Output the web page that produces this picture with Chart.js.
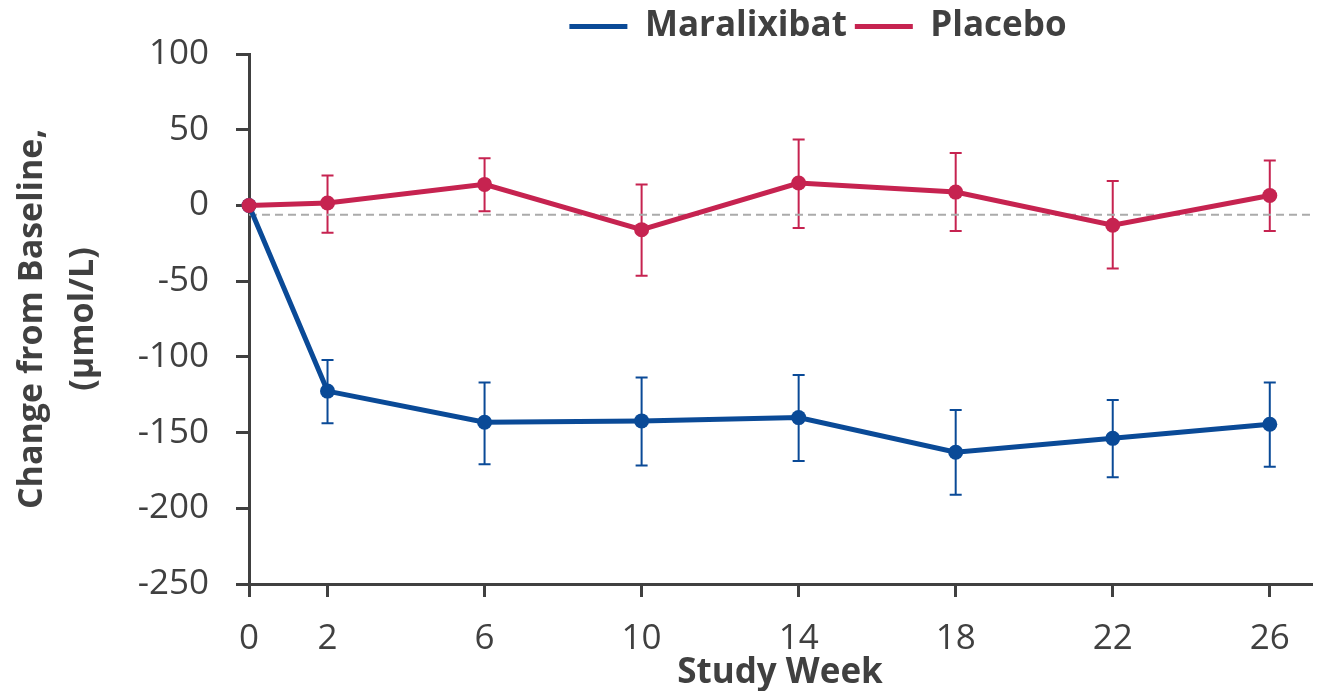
<!DOCTYPE html>
<html>
<head>
<meta charset="utf-8">
<script src="https://cdn.jsdelivr.net/npm/chart.js@4.4.1/dist/chart.umd.min.js"></script>
<style>
  html, body { margin: 0; padding: 0; background: #fff; }
  #wrap { width: 1321px; height: 691px; position: relative; }
</style>
</head>
<body>
<div id="wrap"><canvas id="grafica"></canvas></div>
<script>
// Study weeks (x axis)
const weeks = [0, 2, 6, 10, 14, 18, 22, 26];

// Maralixibat: mean change and error bar ends
const maralixibat = [0, -122.6, -143.2, -142.3, -140.1, -163.0, -153.8, -144.5];
const maralixibatHi = [0, -102.1, -116.9, -113.6, -112.0, -135.1, -128.5, -116.9];
const maralixibatLo = [0, -143.9, -171.0, -171.8, -168.7, -191.1, -179.5, -172.5];

// Placebo
const placebo = [0, 1.6, 13.9, -16.0, 14.8, 8.8, -13.1, 6.6];
const placeboHi = [0, 19.8, 31.2, 13.9, 43.6, 34.7, 16.1, 29.7];
const placeboLo = [0, -18.0, -3.9, -46.5, -14.9, -16.9, -41.7, -16.9];

// dashed reference line
const refLineY = -6.2;

// axis ranges / ticks
const xMin = 0;
const xMax = 27.05;
const yMin = -250;
const yMax = 100;
const yStep = 50;

const AXIS = "#404040";
const AZUL = "#0a4a97";
const ROJO = "#c62350";

Chart.defaults.font.family = "'Open Sans', sans-serif";
Chart.defaults.color = AXIS;

function puntos(ys) {
  return weeks.map((w, i) => ({ x: w, y: ys[i] }));
}

// error bars drawn through the chart scales
const barrasError = {
  id: "barrasError",
  beforeDatasetsDraw(chart) {
    const ctx = chart.ctx;
    const xs = chart.scales.x;
    const ys = chart.scales.y;
    chart.data.datasets.forEach((ds, i) => {
      if (!ds.errHi || !chart.isDatasetVisible(i)) return;
      ctx.save();
      ctx.strokeStyle = ds.borderColor;
      ctx.lineWidth = 2;
      weeks.forEach((w, j) => {
        if (ds.errHi[j] === ds.errLo[j]) return;
        const px = xs.getPixelForValue(w);
        const top = ys.getPixelForValue(ds.errHi[j]);
        const bot = ys.getPixelForValue(ds.errLo[j]);
        ctx.beginPath();
        ctx.moveTo(px, top);
        ctx.lineTo(px, bot);
        ctx.moveTo(px - 6, top);
        ctx.lineTo(px + 6, top);
        ctx.moveTo(px - 6, bot);
        ctx.lineTo(px + 6, bot);
        ctx.stroke();
      });
      ctx.restore();
    });
  },
};

// move legend so it sits where the original one is
const moverLeyenda = {
  id: "moverLeyenda",
  afterLayout(chart) {
    const l = chart.legend;
    if (!l) return;
    l.left += 38;
    l.right += 38;
  },
};

// legend items: a thick line in the series colour
function etiquetas(chart) {
  const base = Chart.defaults.plugins.legend.labels.generateLabels(chart);
  return base
    .filter((it) => it.datasetIndex < 2)
    .map((it) => {
      const ds = chart.data.datasets[it.datasetIndex];
      it.lineWidth = 5;
      it.strokeStyle = ds.borderColor;
      it.fillStyle = ds.borderColor;
      it.pointStyle = "line";
      return it;
    });
}

new Chart(document.getElementById("grafica"), {
  type: "line",
  data: {
    datasets: [
      {
        label: "Maralixibat",
        data: puntos(maralixibat),
        errHi: maralixibatHi,
        errLo: maralixibatLo,
        borderColor: AZUL,
        backgroundColor: AZUL,
        borderWidth: 5,
        pointRadius: 7.5,
        pointBorderWidth: 0,
        pointBackgroundColor: AZUL,
        order: 1,
        clip: false,
      },
      {
        label: "Placebo",
        data: puntos(placebo),
        errHi: placeboHi,
        errLo: placeboLo,
        borderColor: ROJO,
        backgroundColor: ROJO,
        borderWidth: 5,
        pointRadius: 7.5,
        pointBorderWidth: 0,
        pointBackgroundColor: ROJO,
        order: 0,
        clip: false,
      },
      {
        label: "ref",
        data: [{ x: xMin, y: refLineY }, { x: xMax, y: refLineY }],
        borderColor: "#ababab",
        borderWidth: 2,
        borderDash: [8, 5],
        pointRadius: 0,
        order: 2,
      },
    ],
  },
  options: {
    responsive: true,
    maintainAspectRatio: false,
    animation: false,
    layout: { padding: { top: 1, right: 10, bottom: 0, left: 0 } },
    plugins: {
      tooltip: { enabled: false },
      legend: {
        position: "top",
        fullSize: false,
        labels: {
          usePointStyle: true,
          pointStyle: "line",
          pointStyleWidth: 58,
          padding: 8,
          color: AXIS,
          font: { size: 35, weight: "bold" },
          generateLabels: etiquetas,
          sort: (a, b) => a.datasetIndex - b.datasetIndex,
        },
      },
    },
    scales: {
      x: {
        type: "linear",
        min: xMin,
        max: xMax,
        afterBuildTicks: (s) => {
          s.ticks = weeks.map((w) => ({ value: w }));
        },
        afterFit: (s) => {
          s.height = 107;
        },
        grid: {
          drawOnChartArea: false,
          drawTicks: true,
          tickLength: 13,
          lineWidth: 3,
          color: AXIS,
        },
        border: { color: AXIS, width: 3 },
        ticks: {
          padding: 21,
          color: AXIS,
          font: { size: 35 },
          maxRotation: 0,
        },
        title: {
          display: true,
          text: "Study Week",
          color: AXIS,
          font: { size: 35, weight: "bold" },
          padding: { top: 0, bottom: -3 },
        },
      },
      y: {
        min: yMin,
        max: yMax,
        afterFit: (s) => {
          s.width = 249;
        },
        grid: {
          drawOnChartArea: false,
          drawTicks: true,
          tickLength: 13,
          lineWidth: 3,
          color: AXIS,
        },
        border: { color: AXIS, width: 3 },
        ticks: {
          stepSize: yStep,
          padding: 27,
          color: AXIS,
          font: { size: 35 },
        },
        title: {
          display: true,
          text: ["Change from Baseline,", "(μmol/L)"],
          color: AXIS,
          font: { size: 34, weight: "bold", lineHeight: 1.5 },
          padding: { top: 7, bottom: 0 },
        },
      },
    },
  },
  plugins: [barrasError, moverLeyenda],
});
</script>
</body>
</html>
